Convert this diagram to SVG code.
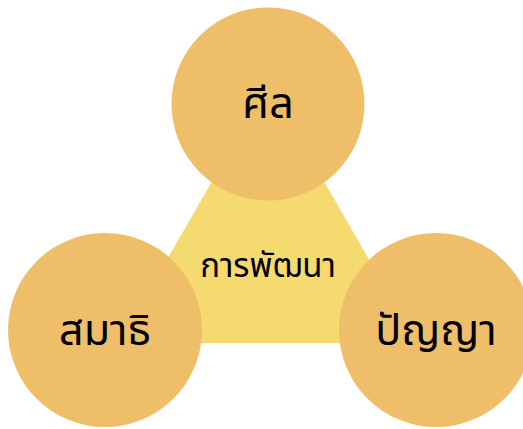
<svg xmlns="http://www.w3.org/2000/svg" width="523" height="429" viewBox="0 0 523 429">
  <style>
    .core { fill: #F4DA6F; }
    .node { fill: #EFBE69; }
    .label { font-family: "Noto Sans Thai", "Noto Sans Thai UI", "Noto Sans", "DejaVu Sans", sans-serif; fill: #000; text-anchor: middle; }
    .big { font-size: 43px; }
    .mid { font-size: 33px; }
  </style>
  <rect width="523" height="429" fill="#ffffff"/>
  <g id="center">
    <polygon class="core" points="268,84 119,343 417,343"/>
    <text class="label mid" x="268" y="277">การพัฒนา</text>
  </g>
  <g id="connectors"></g>
  <g id="sila">
    <circle class="node" cx="268" cy="104" r="96.5"/>
    <text class="label big" x="268" y="118">ศีล</text>
  </g>
  <g id="samadhi">
    <circle class="node" cx="105" cy="330" r="97"/>
    <text class="label big" x="105" y="345">สมาธิ</text>
  </g>
  <g id="panya">
    <circle class="node" cx="436" cy="330" r="97"/>
    <text class="label big" x="436" y="345">ปัญญา</text>
  </g>
</svg>
